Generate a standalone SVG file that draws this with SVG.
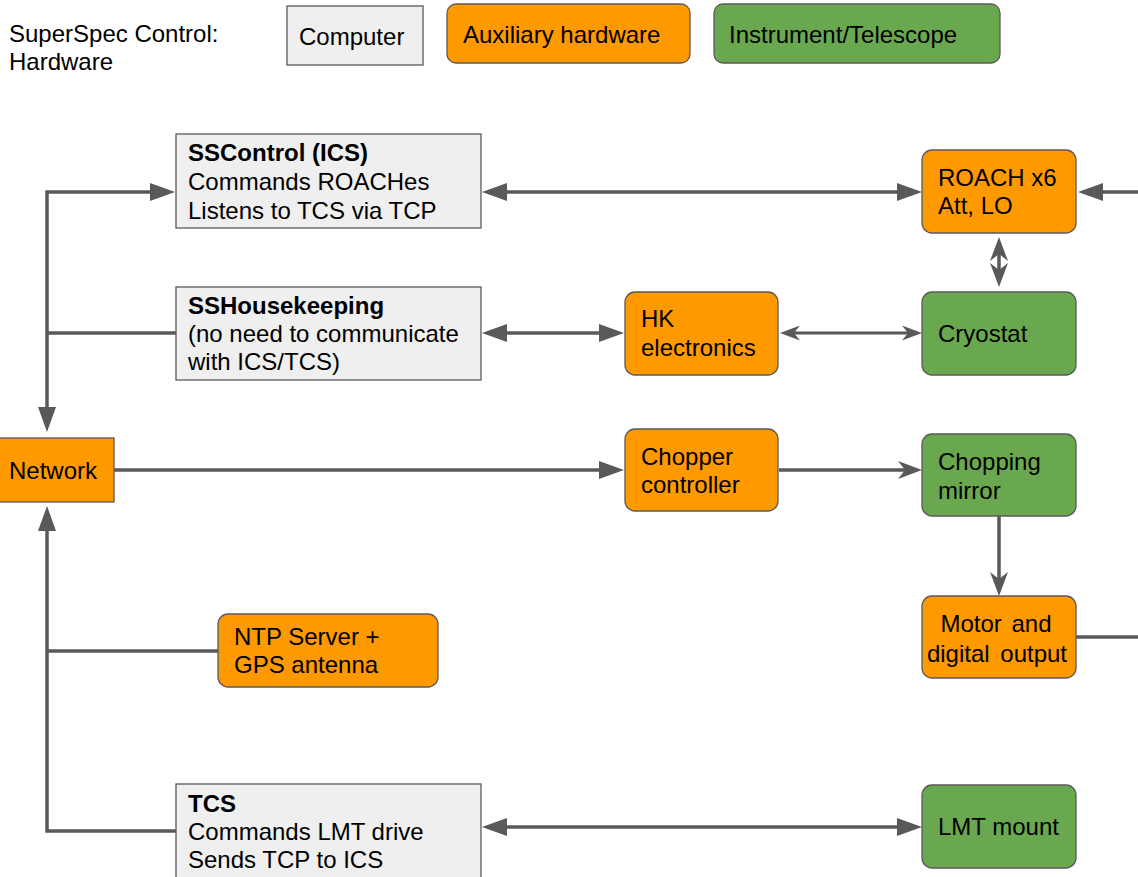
<svg xmlns="http://www.w3.org/2000/svg" width="1138" height="877" viewBox="0 0 1138 877">
<style>
text{font-family:"Liberation Sans",Arial,sans-serif;font-size:24px;fill:#000}
.b{font-weight:bold}
.comp{fill:#efefef;stroke:#595959;stroke-width:1.3}
.aux{fill:#ff9900;stroke:#595959;stroke-width:1.3}
.ins{fill:#6aa84f;stroke:#595959;stroke-width:1.3}
.c{fill:none;stroke:#595959;stroke-width:3.5}
.t{fill:none;stroke:#595959;stroke-width:3}
.a{marker-end:url(#a)}
.aa{marker-start:url(#a);marker-end:url(#a)}
</style>
<defs>
<marker id="a" viewBox="0 0 25 18" refX="1" refY="9" markerWidth="25" markerHeight="18" markerUnits="userSpaceOnUse" orient="auto-start-reverse"><path d="M0,0 L25,9 L0,18 Z" fill="#595959"/></marker>
<marker id="n" viewBox="0 0 24 18" refX="7" refY="9" markerWidth="24" markerHeight="18" markerUnits="userSpaceOnUse" orient="auto-start-reverse"><path d="M0,0 L24,9 L0,18 L7,9 Z" fill="#595959"/></marker>
<marker id="ns" viewBox="0 0 20 15" refX="6" refY="7.5" markerWidth="20" markerHeight="15" markerUnits="userSpaceOnUse" orient="auto-start-reverse"><path d="M0,0 L20,7.5 L0,15 L6,7.5 Z" fill="#595959"/></marker>
</defs>
<rect width="1138" height="877" fill="#fff"/>

<g id="legend">
<text x="9" y="42">SuperSpec Control:</text>
<text x="9" y="70">Hardware</text>
<g id="legend-computer"><rect class="comp" x="287" y="6" width="136" height="59"/><text x="299" y="45">Computer</text></g>
<g id="legend-aux"><rect class="aux" x="447" y="4" width="243" height="59" rx="9"/><text x="463" y="43">Auxiliary hardware</text></g>
<g id="legend-ins"><rect class="ins" x="714" y="4" width="286" height="59" rx="9"/><text x="729" y="43">Instrument/Telescope</text></g>
</g>

<g id="connectors">
<path class="c" d="M151,192 H47 V408" marker-start="url(#a)" marker-end="url(#a)"/>
<path class="c" d="M47,333 H176"/>
<path class="c a" d="M176,831 H47 V530"/>
<path class="c" d="M47,651 H218"/>
<path class="c a" d="M114,470 H600"/>
<path class="c" d="M779,470 H905" marker-end="url(#n)"/>
<path class="c aa" d="M506,192 H898"/>
<path class="c a" d="M1138,192 H1102"/>
<path class="c aa" d="M506,333 H600"/>
<path class="t" d="M794,333 H908" marker-start="url(#ns)" marker-end="url(#ns)"/>
<path class="c" d="M999,254 V270" marker-start="url(#n)" marker-end="url(#n)"/>
<path class="c" d="M999,516 V579" marker-end="url(#n)"/>
<path class="c" d="M1076,637 H1138"/>
<path class="c aa" d="M506,827 H898"/>
</g>

<g id="sscontrol"><rect class="comp" x="176" y="134" width="305" height="94"/>
<text x="188" y="161" class="b">SSControl (ICS)</text><text x="188" y="190">Commands ROACHes</text><text x="188" y="219">Listens to TCS via TCP</text></g>

<g id="sshousekeeping"><rect class="comp" x="176" y="287" width="305" height="93"/>
<text x="188" y="314" class="b">SSHousekeeping</text><text x="188" y="342">(no need to communicate</text><text x="188" y="370">with ICS/TCS)</text></g>

<g id="network"><rect class="aux" x="-2" y="438" width="116" height="64"/><text x="9" y="479">Network</text></g>

<g id="hk"><rect class="aux" x="625" y="292" width="153" height="83" rx="10"/><text x="641" y="327">HK</text><text x="641" y="356">electronics</text></g>

<g id="chopper"><rect class="aux" x="625" y="429" width="153" height="82" rx="10"/><text x="641" y="465">Chopper</text><text x="641" y="493">controller</text></g>

<g id="ntp"><rect class="aux" x="218" y="614" width="220" height="73" rx="10"/><text x="234" y="645">NTP Server +</text><text x="234" y="673">GPS antenna</text></g>

<g id="tcs"><rect class="comp" x="176" y="784" width="305" height="100"/>
<text x="188" y="812" class="b">TCS</text><text x="188" y="840">Commands LMT drive</text><text x="188" y="868">Sends TCP to ICS</text></g>

<g id="roach"><rect class="aux" x="922" y="150" width="154" height="83" rx="10"/><text x="938" y="186">ROACH x6</text><text x="938" y="214">Att, LO</text></g>

<g id="cryostat"><rect class="ins" x="922" y="292" width="154" height="83" rx="10"/><text x="938" y="342">Cryostat</text></g>

<g id="mirror"><rect class="ins" x="922" y="434" width="154" height="82" rx="10"/><text x="938" y="470">Chopping</text><text x="938" y="499">mirror</text></g>

<g id="motor"><rect class="aux" x="922" y="596" width="154" height="82" rx="10"/><text x="996" y="632" text-anchor="middle" word-spacing="3">Motor and</text><text x="997" y="662" text-anchor="middle" word-spacing="4">digital output</text></g>

<g id="lmt"><rect class="ins" x="922" y="785" width="154" height="83" rx="10"/><text x="938" y="835">LMT mount</text></g>
</svg>
